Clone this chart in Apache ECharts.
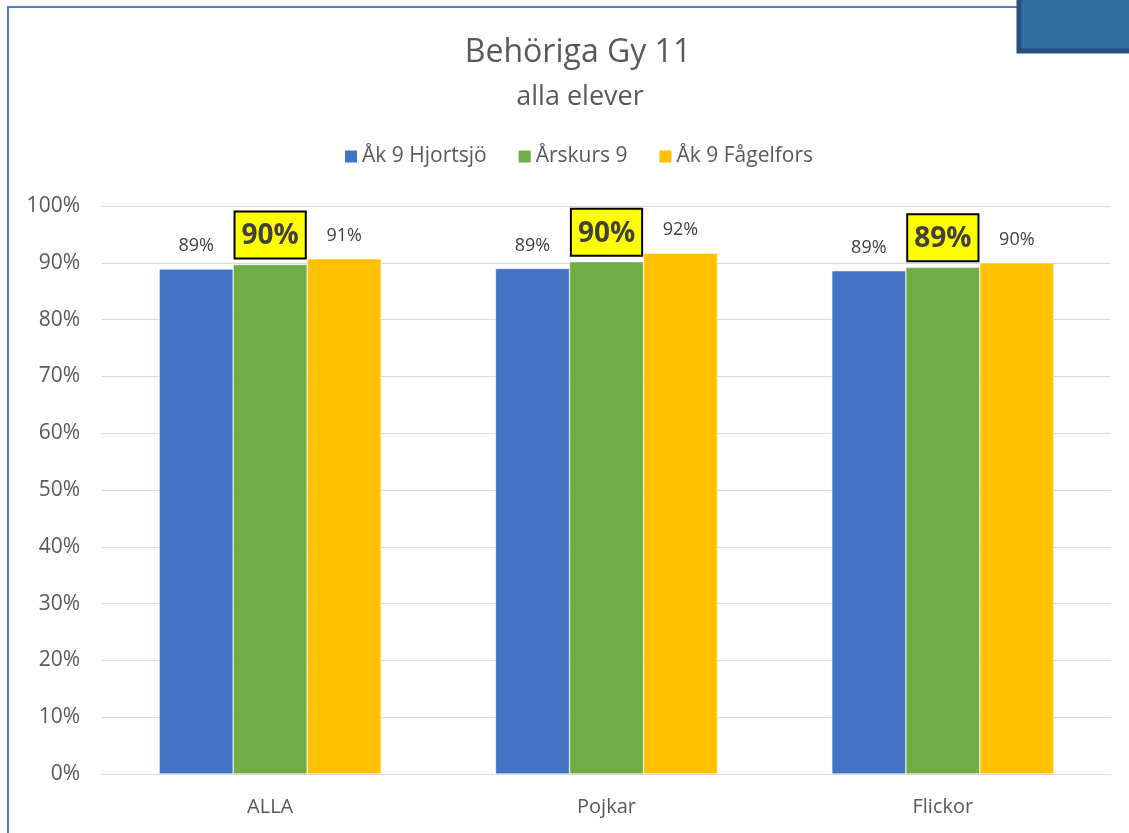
<!DOCTYPE html>
<html>
<head>
<meta charset="utf-8">
<script src="https://cdn.jsdelivr.net/npm/echarts@6/dist/echarts.min.js"></script>
<style>
  html, body { margin: 0; padding: 0; background: #fff; }
  #chart { width: 1129px; height: 833px; }
</style>
</head>
<body>
<div id="chart"></div>
<script>
var categories = ['ALLA', 'Pojkar', 'Flickor'];
var hjortsjo = [88.9, 89.0, 88.6];
var arskurs9 = [89.7, 90.2, 89.2];
var fagelfors = [90.7, 91.7, 90.0];
var yTicks = [0, 10, 20, 30, 40, 50, 60, 70, 80, 90, 100];

var textColor = '#595959';
var font = '"Open Sans", sans-serif';

function pct(p) {
    return Math.round(p.value) + '%';
}

var chart = echarts.init(document.getElementById('chart'));
chart.setOption({
    animation: false,
    textStyle: { fontFamily: font },
    title: [{
        text: 'Behöriga Gy 11',
        left: 573,
        top: 32,
        textAlign: 'center',
        textStyle: { fontSize: 32, fontWeight: 'normal', color: textColor, fontFamily: font }
    }, {
        text: 'alla elever',
        left: 575,
        top: 79,
        textAlign: 'center',
        textStyle: { fontSize: 27, fontWeight: 'normal', color: textColor, fontFamily: font }
    }],
    graphic: [{
        type: 'rect',
        shape: { x: 8, y: 7, width: 1200, height: 900 },
        style: { fill: 'none', stroke: '#4f7ccc', lineWidth: 2 },
        z: 0
    }, {
        type: 'rect',
        shape: { x: 1019, y: -10, width: 120, height: 61 },
        style: { fill: '#316d9e', stroke: '#26507a', lineWidth: 5 },
        z: 10
    }],
    legend: {
        top: 141,
        left: 338,
        itemWidth: 14,
        itemHeight: 14,
        itemGap: 30,
        icon: 'rect',
        textStyle: { fontSize: 21, color: textColor, fontFamily: font, padding: [0, 0, 0, -1] },
        data: ['Åk 9 Hjortsjö', 'Årskurs 9', 'Åk 9 Fågelfors']
    },
    grid: {
        left: 102,
        right: 18,
        top: 206,
        bottom: 59,
        containLabel: false
    },
    xAxis: {
        type: 'category',
        data: categories,
        axisTick: { show: false },
        axisLine: { lineStyle: { color: '#d9d9d9', width: 1 } },
        axisLabel: { fontSize: 20, color: textColor, margin: 23, fontFamily: font }
    },
    yAxis: {
        type: 'value',
        min: yTicks[0],
        max: yTicks[yTicks.length - 1],
        interval: 10,
        axisLine: { show: false },
        axisTick: { show: false },
        splitLine: { lineStyle: { color: '#d9d9d9', width: 1 } },
        axisLabel: {
            fontSize: 21,
            color: textColor,
            margin: 22,
            fontFamily: font,
            formatter: function (v) { return v + '%'; }
        }
    },
    series: [{
        name: 'Åk 9 Hjortsjö',
        type: 'bar',
        data: hjortsjo,
        barGap: '0%',
        barCategoryGap: '34%',
        itemStyle: { color: '#4472c4', borderColor: '#fff', borderWidth: 0.5 },
        label: {
            show: true, position: 'top', distance: 14,
            fontSize: 18, color: '#404040', fontFamily: font, formatter: pct
        }
    }, {
        name: 'Årskurs 9',
        type: 'bar',
        data: arskurs9,
        itemStyle: { color: '#70ad47', borderColor: '#fff', borderWidth: 0.5 },
        label: {
            show: true, position: 'top', distance: 7,
            fontSize: 28, fontWeight: 'bold', color: '#404040', fontFamily: font,
            backgroundColor: '#ffff00', borderColor: '#000', borderWidth: 2,
            padding: [10, 6, 7, 6],
            formatter: pct
        }
    }, {
        name: 'Åk 9 Fågelfors',
        type: 'bar',
        data: fagelfors,
        itemStyle: { color: '#ffc000', borderColor: '#fff', borderWidth: 0.5 },
        label: {
            show: true, position: 'top', distance: 14,
            fontSize: 18, color: '#404040', fontFamily: font, formatter: pct
        }
    }]
});
</script>
</body>
</html>
